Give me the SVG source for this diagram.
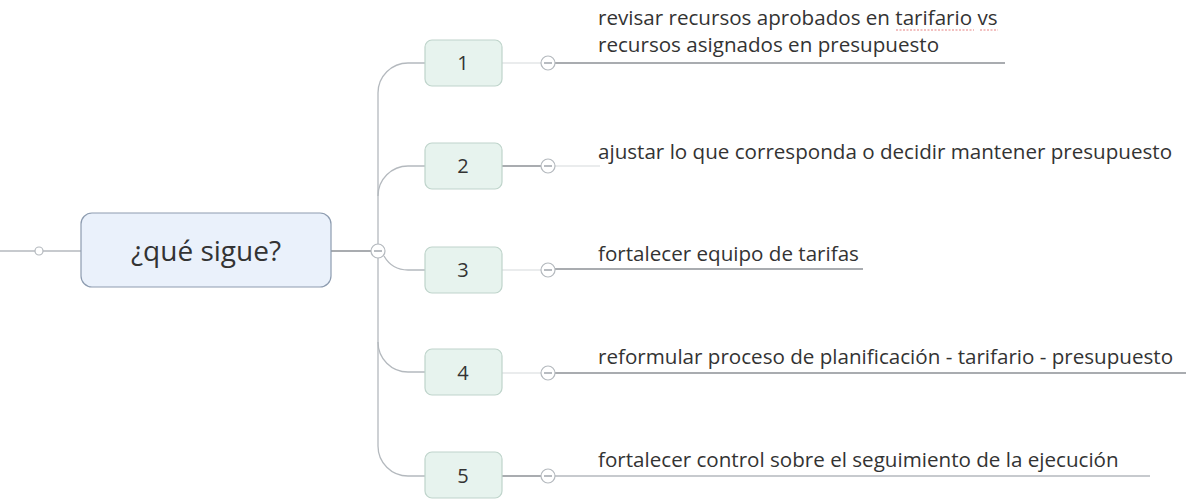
<svg xmlns="http://www.w3.org/2000/svg" width="1186" height="500" viewBox="0 0 1186 500">
<style>
.bg{fill:#ffffff}
.ln{fill:none;stroke:#b4b9be;stroke-width:1.3}
.dk{fill:none;stroke:#8c9196;stroke-width:1.4}
.fa{fill:none;stroke:#d6d9dc;stroke-width:1.2}
.cir{fill:#ffffff;stroke:#b4b9be;stroke-width:1.2}
.minus{stroke:#9aa0a6;stroke-width:1.4}
.root{fill:#eaf1fb;stroke:#8d9cb0;stroke-width:1.2}
.child{fill:#e7f3ee;stroke:#bfd4cb;stroke-width:1.2}
.t{font-family:"Open Sans","Noto Sans","DejaVu Sans",sans-serif;fill:#333333}
.lbl{font-size:20.6px}
.num{font-size:20px;text-anchor:middle}
.big{font-size:28px;text-anchor:middle}
.sq{fill:none;stroke:#e06060;stroke-width:0.8;stroke-dasharray:2 1.5}
</style>
<rect class="bg" x="0" y="0" width="1186" height="500"/>
<g id="connectors">
<path class="ln" d="M0,251 H81"/>
<circle class="cir" cx="39" cy="251" r="4"/>
<path class="dk" d="M331,251 H371"/>
<path class="ln" d="M378,93 V446"/>
<path class="ln" d="M378,93 A30,30 0 0 1 408,63 H425"/>
<path class="ln" d="M378,196 A30,30 0 0 1 408,166 H425"/>
<path class="ln" d="M384,256 Q392,270 408,270 H425"/>
<path class="ln" d="M378,342 A30,30 0 0 0 408,372 H425"/>
<path class="ln" d="M378,446 A30,30 0 0 0 408,476 H425"/>
<circle class="cir" cx="378" cy="251" r="7"/>
<line class="minus" x1="374" y1="251" x2="382" y2="251"/>
<path class="fa" d="M502,63 H541"/>
<path class="dk" d="M502,166 H541"/>
<path class="fa" d="M502,270 H541"/>
<path class="fa" d="M502,373 H541"/>
<path class="dk" d="M502,476 H541"/>
<path class="dk" d="M555,63 H1005"/>
<path class="fa" d="M555,166 H600"/>
<path class="dk" d="M555,269 H863"/>
<path class="dk" d="M555,373 H1186"/>
<path class="ln" d="M555,476 H1150"/>
<circle class="cir" cx="548" cy="63" r="7"/>
<line class="minus" x1="544" y1="63" x2="552" y2="63"/>
<circle class="cir" cx="548" cy="166" r="7"/>
<line class="minus" x1="544" y1="166" x2="552" y2="166"/>
<circle class="cir" cx="548" cy="270" r="7"/>
<line class="minus" x1="544" y1="270" x2="552" y2="270"/>
<circle class="cir" cx="548" cy="373" r="7"/>
<line class="minus" x1="544" y1="373" x2="552" y2="373"/>
<circle class="cir" cx="548" cy="476" r="7"/>
<line class="minus" x1="544" y1="476" x2="552" y2="476"/>
</g>
<g id="root">
<rect class="root" x="81" y="213" width="250" height="74" rx="11"/>
<text class="t big" x="206" y="261">¿qué sigue?</text>
</g>
<g id="n1">
<rect class="child" x="425" y="40" width="77" height="46" rx="7"/>
<text class="t num" x="463" y="70">1</text>
<text class="t lbl" x="598" y="25">revisar recursos aprobados en tarifario vs</text>
<text class="t lbl" x="598" y="52">recursos asignados en presupuesto</text>
<path class="sq" d="M896,30 H974 M980,30 H998"/>
</g>
<g id="n2">
<rect class="child" x="425" y="143" width="77" height="46" rx="7"/>
<text class="t num" x="463" y="173">2</text>
<text class="t lbl" x="598" y="159">ajustar lo que corresponda o decidir mantener presupuesto</text>
</g>
<g id="n3">
<rect class="child" x="425" y="247" width="77" height="46" rx="7"/>
<text class="t num" x="463" y="277">3</text>
<text class="t lbl" x="598" y="261">fortalecer equipo de tarifas</text>
</g>
<g id="n4">
<rect class="child" x="425" y="349" width="77" height="46" rx="7"/>
<text class="t num" x="463" y="380">4</text>
<text class="t lbl" x="598" y="364">reformular proceso de planificación - tarifario - presupuesto</text>
</g>
<g id="n5">
<rect class="child" x="425" y="452" width="77" height="46" rx="7"/>
<text class="t num" x="463" y="483">5</text>
<text class="t lbl" x="598" y="467">fortalecer control sobre el seguimiento de la ejecución</text>
</g>
</svg>
